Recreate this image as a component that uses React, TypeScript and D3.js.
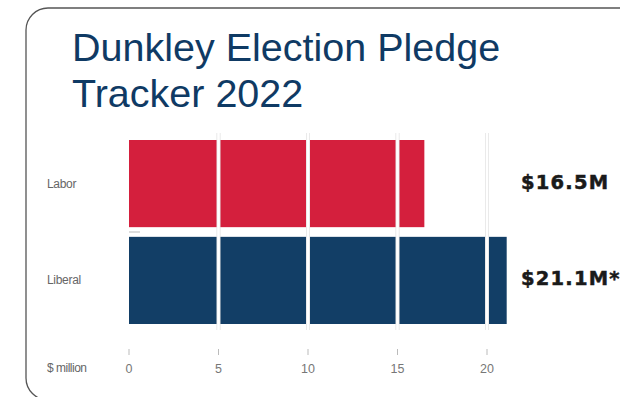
import React from "react";
import * as d3 from "d3";

const parties = ["Labor", "Liberal"];
const pledges = [16.5, 21.1];
const valueLabels = ["$16.5M", "$21.1M*"];
const barColors = ["#d41f3d", "#123e66"];
const ticks = [0, 5, 10, 15, 20];
const titleLines = ["Dunkley Election Pledge", "Tracker 2022"];
const axisTitle = "$ million";

export default function App() {
  const W = 620;
  const H = 397;
  const x = d3.scaleLinear().domain([0, 20]).range([129, 487]);
  const y = d3.scaleBand<string>().domain(parties).range([140, 324]).paddingInner(0.1).paddingOuter(0);
  const gridTop = 133;
  const gridBottom = 330;

  return (
    <svg
      width={W}
      height={H}
      style={{ position: "absolute", left: 0, top: 0, background: "#fff" }}
      fontFamily="'Liberation Sans', Arial, sans-serif"
    >
      <rect x={26} y={8} width={700} height={392} rx={22} ry={22} fill="#fff" stroke="#555" strokeWidth={1.3} />
      {titleLines.map((t, i) => (
        <text key={t} x={72} y={61 + i * 46} fontSize={39.5} fill="#0f3a64">
          {t}
        </text>
      ))}
      {parties.map((p, i) => (
        <g key={p}>
          <rect x={x(0)} y={y(p)} width={x(pledges[i]) - x(0)} height={y.bandwidth()} fill={barColors[i]} />
          <text x={47} y={(y(p) as number) + y.bandwidth() / 2 + 4} fontSize={12} fill="#666" letterSpacing={-0.3}>
            {p}
          </text>
          <text
            x={521}
            y={(y(p) as number) + y.bandwidth() / 2 + 5}
            fontSize={19.5}
            fontWeight="bold"
            fontFamily="'DejaVu Sans', sans-serif"
            letterSpacing={1.2}
            fill="#1a1a1a"
            stroke="#1a1a1a"
            strokeWidth={0.5}
          >
            {valueLabels[i]}
          </text>
        </g>
      ))}
      {ticks.slice(1).map((t) => (
        <g key={"g" + t}>
          <line x1={x(t)} x2={x(t)} y1={gridTop} y2={gridBottom} stroke="#e2e2e2" strokeWidth={4} />
          <line x1={x(t)} x2={x(t)} y1={gridTop} y2={gridBottom} stroke="#fff" strokeWidth={2.6} />
        </g>
      ))}
      <line x1={129} x2={140} y1={232} y2={232} stroke="#bbb" strokeWidth={1} />
      {ticks.map((t) => (
        <g key={"t" + t}>
          <line x1={x(t)} x2={x(t)} y1={349} y2={355} stroke="#bbb" strokeWidth={1} />
          <text x={x(t)} y={373} fontSize={12.5} fill="#777" textAnchor="middle">
            {t}
          </text>
        </g>
      ))}
      <text x={47} y={372} fontSize={12} fill="#666" letterSpacing={-0.5}>
        {axisTitle}
      </text>
    </svg>
  );
}
